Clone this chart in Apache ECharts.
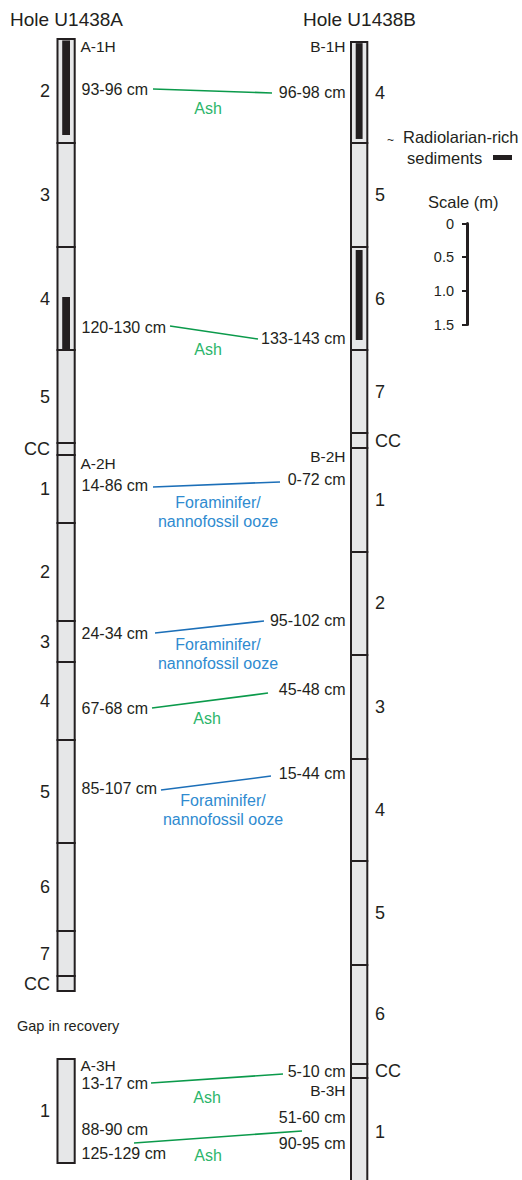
<!DOCTYPE html>
<html>
<head>
<meta charset="utf-8">
<script src="https://cdn.jsdelivr.net/npm/echarts@6/dist/echarts.min.js"></script>
<style>html,body{margin:0;padding:0;background:#fff}#c{width:522px;height:1180px}</style>
</head>
<body>
<div id="c"></div>
<script>
// ================= DATA (display depth in m) =================
const holeASectionNames   = ['2','3','4','5','CC','1','2','3','4','5','6','7','CC','1'];
const holeASectionTops    = [0.00,1.541,3.083,4.611,5.990,6.168,7.176,8.630,9.238,10.395,11.922,13.227,13.895,15.125];
const holeASectionBottoms = [1.541,3.083,4.611,5.990,6.168,7.176,8.630,9.238,10.395,11.922,13.227,13.895,14.117,16.668];

const holeBSectionNames   = ['4','5','6','7','CC','1','2','3','4','5','6','CC','1'];
const holeBSectionTops    = [0.043,1.541,3.083,4.611,5.842,6.064,7.606,9.134,10.676,12.189,13.731,15.200,15.407];
const holeBSectionBottoms = [1.541,3.083,4.611,5.842,6.064,7.606,9.134,10.676,12.189,13.731,15.200,15.407,17.0];

const radiolarianATops    = [0.02, 3.825];
const radiolarianABottoms = [1.422, 4.596];
const radiolarianBTops    = [0.06, 3.128];
const radiolarianBBottoms = [1.481, 4.462];

const coreNamesA  = ['A-1H','A-2H','A-3H'];
const coreDepthsA = [0.117, 6.287, 15.222];
const coreNamesB  = ['B-1H','B-2H','B-3H'];
const coreDepthsB = [0.117, 6.183, 15.593];

const intervalLabelsA = ['93-96 cm','120-130 cm','14-86 cm','24-34 cm','67-68 cm','85-107 cm','13-17 cm','88-90 cm','125-129 cm'];
const intervalDepthsA = [0.740, 4.284, 6.613, 8.808, 9.920, 11.121, 15.496, 16.178, 16.534];
const intervalLabelsB = ['96-98 cm','133-143 cm','0-72 cm','95-102 cm','45-48 cm','15-44 cm','5-10 cm','51-60 cm','90-95 cm'];
const intervalDepthsB = [0.799, 4.433, 6.524, 8.615, 9.653, 10.884, 15.318, 15.986, 16.386];

const corrDepthsA   = [0.740, 4.255, 6.642, 8.808, 9.920, 11.136, 15.481, 16.371];
const corrDepthsB   = [0.799, 4.448, 6.568, 8.630, 9.698, 10.929, 15.348, 16.193];
const corrLithology = ['Ash','Ash','Ooze','Ooze','Ash','Ooze','Ash','Ash'];

const scaleTicks = [0, 0.5, 1.0, 1.5];

// ================= LAYOUT / STYLE =================
const FONT = "'Liberation Sans', Arial, Helvetica, sans-serif";
const INK = '#231f20';
const COL_X = [[57.5, 74.7], [351, 367.3]];
const SEC_LABEL_X = [50, 375];
const CORE_LABEL_X = [80.5, 345.5];
const INTERVAL_X = [81.5, 345.5];
const LINE_X_A = [153, 170, 153, 155, 152, 161, 151, 134];
const LINE_X_B = [272, 258, 280, 264, 268, 271, 283, 302];
const LITH_X   = [208, 208, 218, 218, 207, 223, 207, 208];
const LITH_TEXT = { Ash: ['Ash'], Ooze: ['Foraminifer/', 'nannofossil ooze'] };
const LINE_COLOR = { Ash: '#0b9a4b', Ooze: '#1c6fb8' };
const TEXT_COLOR = { Ash: '#2bb56a', Ooze: '#2f8bd0' };

function txt(x, y, text, size, color, align) {
  return { type: 'text', style: { x: x, y: y, text: text, fontSize: size, fontFamily: FONT, fill: color, align: align || 'left', verticalAlign: 'middle' } };
}

// build series data from arrays
const sectionData = [], sectionNames = [];
holeASectionTops.forEach((t, i) => { sectionData.push([0, t, holeASectionBottoms[i]]); sectionNames.push(holeASectionNames[i]); });
holeBSectionTops.forEach((t, i) => { sectionData.push([1, t, holeBSectionBottoms[i]]); sectionNames.push(holeBSectionNames[i]); });

const radData = [];
radiolarianATops.forEach((t, i) => radData.push([0, t, radiolarianABottoms[i]]));
radiolarianBTops.forEach((t, i) => radData.push([1, t, radiolarianBBottoms[i]]));

const coreData = [], coreNames = [];
coreDepthsA.forEach((d, i) => { coreData.push([0, d]); coreNames.push(coreNamesA[i]); });
coreDepthsB.forEach((d, i) => { coreData.push([1, d]); coreNames.push(coreNamesB[i]); });

const intData = [], intNames = [];
intervalDepthsA.forEach((d, i) => { intData.push([0, d]); intNames.push(intervalLabelsA[i]); });
intervalDepthsB.forEach((d, i) => { intData.push([1, d]); intNames.push(intervalLabelsB[i]); });

const corrData = corrDepthsA.map((d, i) => [i, d, corrDepthsB[i]]);

const chart = echarts.init(document.getElementById('c'), null, { renderer: 'svg' });

const option = {
  animation: false,
  backgroundColor: '#ffffff',
  grid: [
    { left: 0, top: 0, width: 522, height: 1180 },
    { left: 467, top: 223.5, width: 1, height: 101 }
  ],
  xAxis: [
    { type: 'value', min: 0, max: 522, show: false, gridIndex: 0 },
    { type: 'value', min: 0, max: 1, show: false, gridIndex: 1 }
  ],
  yAxis: [
    { type: 'value', min: -0.58, max: 16.92, inverse: true, show: false, gridIndex: 0 },
    {
      type: 'value', gridIndex: 1, min: 0, max: 1.5, interval: 0.5, inverse: true, position: 'left',
      axisLine: { show: true, lineStyle: { color: INK, width: 3 } },
      axisTick: { show: true, inside: false, length: 5, lineStyle: { color: INK, width: 2 } },
      splitLine: { show: false },
      axisLabel: { margin: 13, fontSize: 14.5, fontFamily: FONT, color: INK,
        formatter: v => (scaleTicks.indexOf(v) === 0 ? '0' : v.toFixed(1)) }
    }
  ],
  graphic: [
    txt(10, 19, 'Hole U1438A', 19, INK),
    txt(303, 19, 'Hole U1438B', 19, INK),
    txt(17, 1026, 'Gap in recovery', 14.5, INK),
    txt(387, 140, '~', 12, INK),
    txt(403, 137, 'Radiolarian-rich', 16.5, INK),
    txt(407, 158, 'sediments', 16.5, INK),
    { type: 'rect', shape: { x: 493, y: 155, width: 19, height: 5 }, style: { fill: INK } },
    txt(428, 202, 'Scale (m)', 16.5, INK)
  ],
  series: [
    {
      type: 'custom', name: 'sections', xAxisIndex: 0, yAxisIndex: 0, data: sectionData,
      renderItem: function (params, api) {
        const h = api.value(0), t = api.value(1), b = api.value(2);
        const p0 = api.coord([COL_X[h][0], t]), p1 = api.coord([COL_X[h][1], b]);
        const my = (p0[1] + p1[1]) / 2;
        const name = sectionNames[params.dataIndex];
        return { type: 'group', children: [
          { type: 'rect', shape: { x: p0[0], y: p0[1], width: p1[0] - p0[0], height: p1[1] - p0[1] },
            style: { fill: '#e6e7e8', stroke: INK, lineWidth: 2 } },
          txt(SEC_LABEL_X[h], my, name, 18, INK, h === 0 ? 'right' : 'left')
        ] };
      }
    },
    {
      type: 'custom', name: 'radiolarian', xAxisIndex: 0, yAxisIndex: 0, data: radData,
      renderItem: function (params, api) {
        const h = api.value(0), t = api.value(1), b = api.value(2);
        const p0 = api.coord([COL_X[h][0] + 4.7, t]), p1 = api.coord([COL_X[h][1] - 4.7, b]);
        return { type: 'rect', shape: { x: p0[0], y: p0[1], width: p1[0] - p0[0], height: p1[1] - p0[1] }, style: { fill: INK } };
      }
    },
    {
      type: 'custom', name: 'cores', xAxisIndex: 0, yAxisIndex: 0, data: coreData,
      renderItem: function (params, api) {
        const h = api.value(0), p = api.coord([CORE_LABEL_X[h], api.value(1)]);
        return txt(p[0], p[1], coreNames[params.dataIndex], 15.5, INK, h === 0 ? 'left' : 'right');
      }
    },
    {
      type: 'custom', name: 'intervals', xAxisIndex: 0, yAxisIndex: 0, data: intData,
      renderItem: function (params, api) {
        const h = api.value(0), p = api.coord([INTERVAL_X[h], api.value(1)]);
        return txt(p[0], p[1], intNames[params.dataIndex], 16, INK, h === 0 ? 'left' : 'right');
      }
    },
    {
      type: 'custom', name: 'correlations', xAxisIndex: 0, yAxisIndex: 0, data: corrData,
      renderItem: function (params, api) {
        const i = api.value(0);
        const pa = api.coord([LINE_X_A[i], api.value(1)]);
        const pb = api.coord([LINE_X_B[i], api.value(2)]);
        const lith = corrLithology[i];
        const lx = LITH_X[i];
        const ly = pa[1] + (lx - pa[0]) / (pb[0] - pa[0]) * (pb[1] - pa[1]);
        const children = [{ type: 'line', shape: { x1: pa[0], y1: pa[1], x2: pb[0], y2: pb[1] },
          style: { stroke: LINE_COLOR[lith], lineWidth: 1.6 } }];
        LITH_TEXT[lith].forEach((s, k) => children.push(txt(lx, ly + 18 + k * 19, s, 16, TEXT_COLOR[lith], 'center')));
        return { type: 'group', children: children };
      }
    },
    { type: 'line', xAxisIndex: 1, yAxisIndex: 1, data: [], silent: true }
  ]
};
chart.setOption(option);
</script>
</body>
</html>
